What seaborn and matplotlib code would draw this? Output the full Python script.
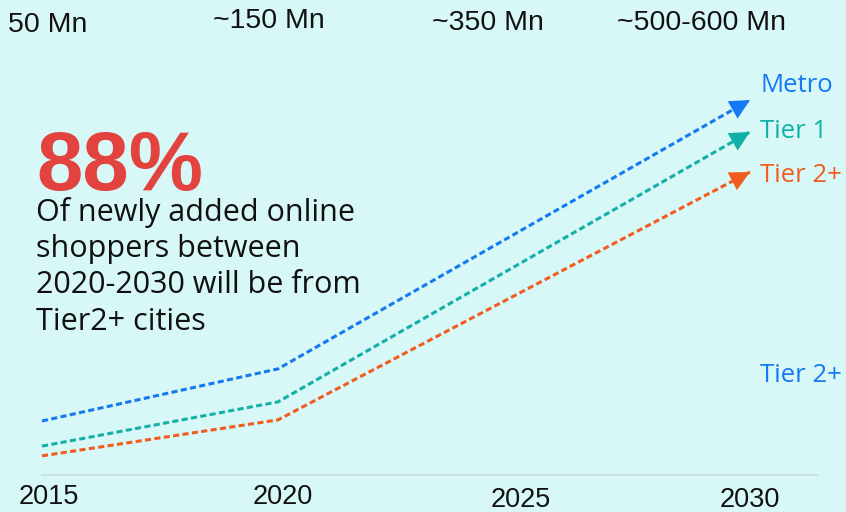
"""Online shopper growth by city tier, 2015-2030."""

import matplotlib

matplotlib.use("Agg")

import matplotlib.pyplot as plt
import pandas as pd
import seaborn as sns

# values (relative index, 2030 metro = 100)
years = [2015, 2020, 2030]
metro = [14.4, 28.3, 100.0]
tier1 = [7.7, 19.5, 91.5]
tier2 = [5.1, 14.7, 80.8]

series_names = ["Metro", "Tier 1", "Tier 2+"]
series_colors = ["#1479f2", "#12b0a6", "#f25c1f"]

tick_years = [2015, 2020, 2025, 2030]
shopper_labels = ["50 Mn", "~150 Mn", "~350 Mn", "~500-600 Mn"]

headline = "88%"
blurb_lines = [
    "Of newly added online",
    "shoppers between",
    "2020-2030 will be from",
    "Tier2+ cities",
]

BG = "#d7f8f7"
BODY_FONT = ["Open Sans", "DejaVu Sans"]
LABEL_FONT = ["Liberation Sans", "DejaVu Sans"]

sns.set_theme(style="white")
plt.rcParams["font.family"] = BODY_FONT

df = pd.DataFrame(
    {
        "year": years * 3,
        "value": metro + tier1 + tier2,
        "tier": [n for n in series_names for _ in years],
    }
)
palette = dict(zip(series_names, series_colors))

fig = plt.figure(figsize=(8.46, 5.12), dpi=100, facecolor=BG)
ax = fig.add_axes([0, 0, 1, 1])
ax.set_facecolor(BG)

sns.lineplot(
    data=df,
    x="year",
    y="value",
    hue="tier",
    style="tier",
    palette=palette,
    dashes={n: (2, 1.1) for n in series_names},
    linewidth=2.2,
    legend=False,
    ax=ax,
)

# arrow heads at the 2030 end of every line
for name in series_names:
    sub = df[df["tier"] == name]
    x0, x1 = sub["year"].iloc[-2], sub["year"].iloc[-1]
    y0, y1 = sub["value"].iloc[-2], sub["value"].iloc[-1]
    back = 0.45
    ax.annotate(
        "",
        xy=(x1, y1),
        xytext=(x1 - back, y1 - (y1 - y0) / (x1 - x0) * back),
        arrowprops=dict(
            arrowstyle="-|>,head_length=0.8,head_width=0.4",
            mutation_scale=18,
            color=palette[name],
            lw=0,
            shrinkA=0,
            shrinkB=0,
        ),
    )

# 2015 -> x=42px, 2030 -> x=750px ; value 0 -> y=475px, 100 -> y=100px
px_per_year = (750 - 42) / 15
ax.set_xlim(2015 - 42 / px_per_year, 2015 + (846 - 42) / px_per_year)
ax.set_ylim(-(512 - 475) / 3.75, 475 / 3.75)
ax.axis("off")

ax.plot(
    [2015 - 1 / px_per_year, 2015 + (818 - 42) / px_per_year],
    [0, 0],
    color="#c5dede",
    lw=1.2,
    solid_capstyle="butt",
)

# year labels along the bottom
year_y = [-5.9, -5.9, -6.7, -6.7]
year_dx = [0.15, 0.1, 0.15, 0.0]
for yr, yy, dx in zip(tick_years, year_y, year_dx):
    ax.text(yr + dx, yy, str(yr), ha="center", va="center",
            fontsize=19.5, color="#111111", family=LABEL_FONT)

# shopper counts along the top (figure fractions)
top_x = [8, 213, 432, 617]
top_y = [25, 21, 23, 23]
for lab, px, py in zip(shopper_labels, top_x, top_y):
    fig.text(px / 846, 1 - py / 512, lab, ha="left", va="center",
             fontsize=20.5, color="#111111", family=LABEL_FONT)

# series labels on the right
right_y = [85, 132, 176]
for name, py in zip(series_names, right_y):
    fig.text(760 / 846, 1 - py / 512, name, ha="left", va="center",
             fontsize=18.5, color=palette[name])
fig.text(760 / 846, 1 - 376 / 512, "Tier 2+", ha="left", va="center",
         fontsize=18.5, color="#1479f2")

# headline call-out
fig.text(36 / 846, 1 - 190 / 512, headline, ha="left", va="baseline",
         fontsize=60, fontweight="bold", color="#e2433f",
         family=["Liberation Sans", "DejaVu Sans"])
blurb_base = [221, 257, 293, 330]
for line, py in zip(blurb_lines, blurb_base):
    fig.text(36 / 846, 1 - py / 512, line, ha="left", va="baseline",
             fontsize=22, color="#111111")

fig.savefig("out.png", dpi=100, facecolor=BG)
plt.close(fig)
